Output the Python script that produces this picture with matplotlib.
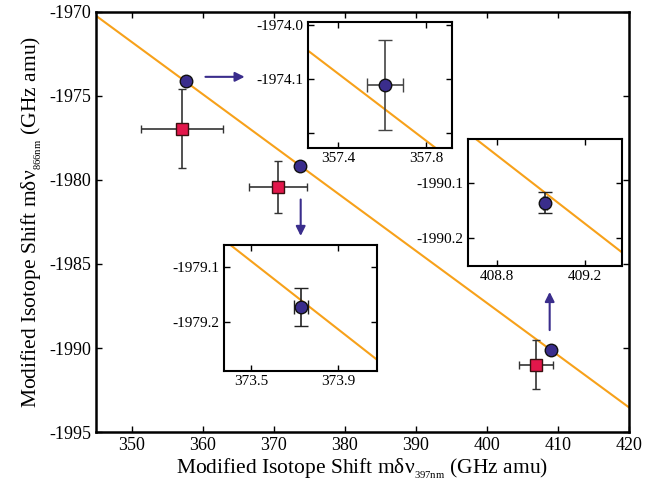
import numpy as np
import matplotlib

matplotlib.use('Agg')
import matplotlib.pyplot as plt

plt.rcParams['font.family'] = ['Liberation Serif', 'DejaVu Serif']
plt.rcParams['mathtext.fontset'] = 'custom'
plt.rcParams['mathtext.rm'] = 'Liberation Serif'
plt.rcParams['mathtext.it'] = 'Liberation Serif:italic'
plt.rcParams['axes.unicode_minus'] = False

# fitted King line
line_slope = -0.3105
line_x0 = 373.76
line_y0 = -1979.17

# calculated points (circles)
calc_x = [357.614, 373.73, 409.018]
calc_y = [-1974.111, -1979.173, -1990.136]
calc_xerr = [0.08, 0.032, 0.01]
calc_yerr = [0.083, 0.035, 0.019]

# measured points (squares)
meas_x = [357.1, 370.6, 406.9]
meas_y = [-1976.95, -1980.4, -1991.0]
meas_xerr = [5.8, 4.1, 2.4]
meas_yerr = [2.35, 1.55, 1.45]

line_color = '#f7a11a'
circle_color = '#3a2d8c'
square_color = '#e2174b'
err_color = '#333333'


def king_line(x):
    return line_y0 + line_slope * (np.asarray(x) - line_x0)


def style_axes(ax, lw):
    for s in ax.spines.values():
        s.set_linewidth(lw)
    ax.tick_params(direction='in', top=True, right=True, length=4, width=1)


fig = plt.figure(figsize=(6.45, 4.91), dpi=100)
ax = fig.add_axes([0.149, 0.120, 0.826, 0.856])

xs = np.linspace(345, 420, 10)
ax.plot(xs, king_line(xs), color=line_color, lw=1.5, zorder=1)
ax.errorbar(meas_x, meas_y, xerr=meas_xerr, yerr=meas_yerr, fmt='s', color=err_color,
            mfc=square_color, mec='#3a1010', ms=9, capsize=3, elinewidth=1.2, zorder=3)
ax.plot(calc_x, calc_y, 'o', mfc=circle_color, mec='#111111', ms=9, zorder=4)

ax.set_xlim(345, 420)
ax.set_ylim(-1995, -1970)
ax.set_xticks(np.arange(350, 421, 10))
ax.set_yticks(np.arange(-1995, -1969, 5))
style_axes(ax, 1.8)
ax.tick_params(labelsize=13)
ax.set_xlabel('Modified Isotope Shift m\u03b4\u03bd$_{_{\\mathrm{397nm}}}$ (GHz amu)', fontsize=15.5, labelpad=2)
ax.set_ylabel('Modified Isotope Shift m\u03b4\u03bd$_{_{\\mathrm{866nm}}}$ (GHz amu)', fontsize=15.5, labelpad=4)

# arrows pointing to the zoomed views
arrow_props = dict(arrowstyle='-|>', color=circle_color, lw=1.5, mutation_scale=14)
ax.annotate('', xy=(366.3, -1973.87), xytext=(360.0, -1973.87), arrowprops=arrow_props)
ax.annotate('', xy=(373.8, -1983.5), xytext=(373.8, -1981.0), arrowprops=arrow_props)
ax.annotate('', xy=(408.85, -1986.5), xytext=(408.85, -1989.1), arrowprops=arrow_props)

# zoomed views
insets = [
    dict(rect=[0.4775, 0.6986, 0.2233, 0.2566], i=0,
         xlim=(357.264, 357.918), ylim=(-1974.228, -1973.995),
         xticks=[357.4, 357.8], yticks=[-1974.2, -1974.1, -1974.0],
         ylabels=['', '-1974.1', '-1974.0']),
    dict(rect=[0.3473, 0.2444, 0.2372, 0.2566], i=1,
         xlim=(373.376, 374.08), ylim=(-1979.29, -1979.06),
         xticks=[373.5, 373.9], yticks=[-1979.2, -1979.1],
         ylabels=['-1979.2', '-1979.1']),
    dict(rect=[0.7256, 0.4582, 0.2388, 0.2587], i=2,
         xlim=(408.668, 409.368), ylim=(-1990.251, -1990.02),
         xticks=[408.8, 409.2], yticks=[-1990.2, -1990.1],
         ylabels=['-1990.2', '-1990.1']),
]

for d in insets:
    i = d['i']
    ins = fig.add_axes(d['rect'])
    lx = np.array(d['xlim'])
    ins.plot(lx, king_line(lx), color=line_color, lw=1.5, zorder=1)
    ins.errorbar([calc_x[i]], [calc_y[i]], xerr=[calc_xerr[i]], yerr=[calc_yerr[i]], fmt='o',
                 color='#444444' if i == 0 else '#222222', mfc=circle_color, mec='#111111',
                 ms=9, capsize=5, elinewidth=1.2, zorder=3)
    ins.set_xlim(*d['xlim'])
    ins.set_ylim(*d['ylim'])
    ins.set_xticks(d['xticks'])
    ins.set_xticklabels([f'{v:.1f}' for v in d['xticks']])
    ins.set_yticks(d['yticks'])
    ins.set_yticklabels(d['ylabels'])
    style_axes(ins, 1.5)
    ins.tick_params(labelsize=11, pad=3)

fig.savefig('out.png', dpi=100)
